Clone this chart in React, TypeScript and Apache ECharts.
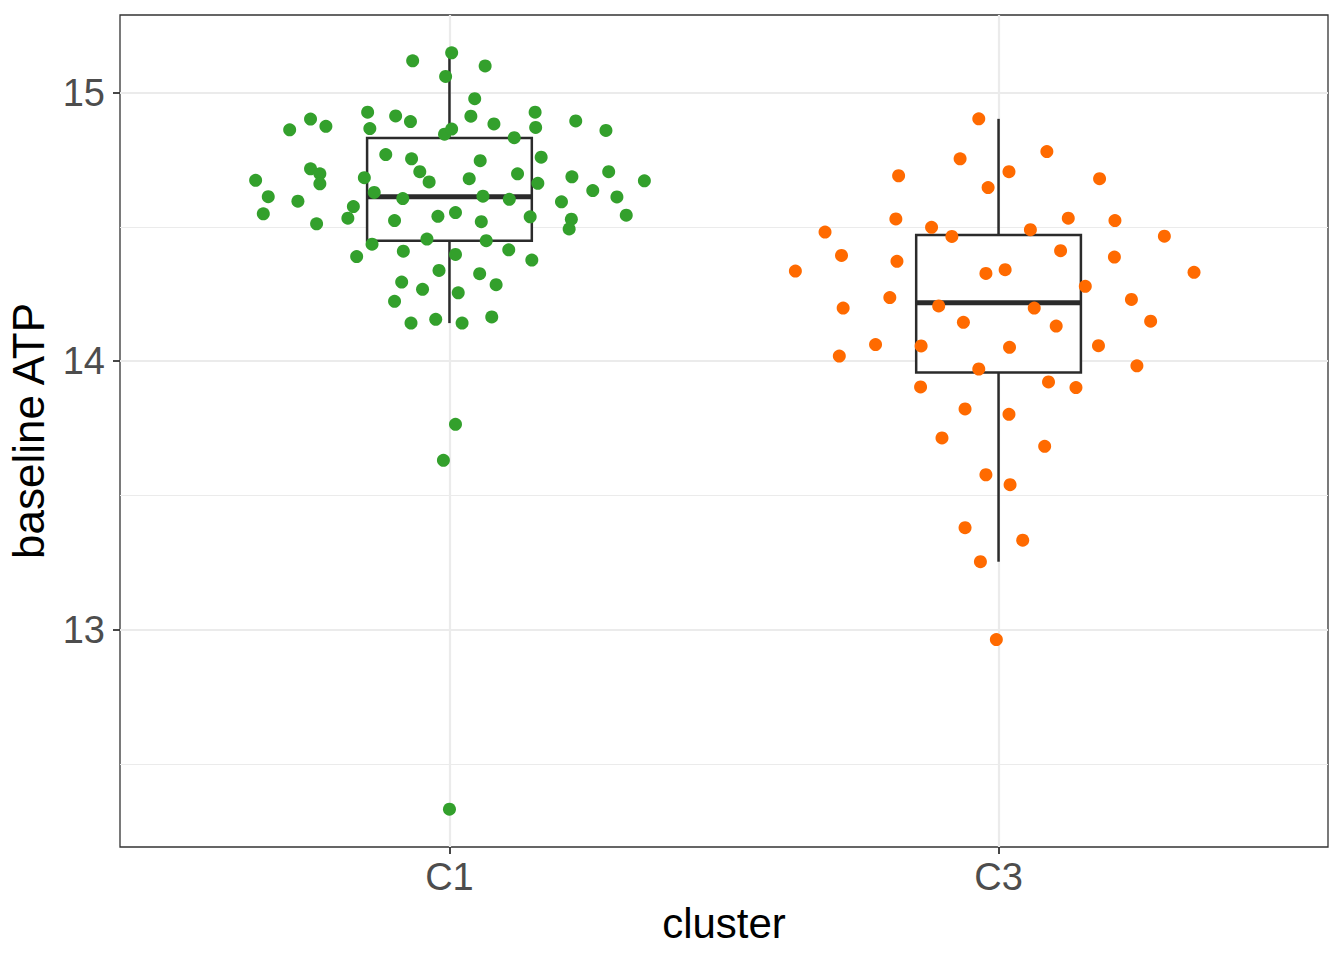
import React, { useEffect, useRef } from "react";
import * as echarts from "echarts";

// ---- data ----
const categories = ["C1", "C3"];

// C1: horizontal jitter offsets (category units) and baseline ATP values
const c1Jitter = [
  0.004, -0.067, 0.065, -0.007, 0.046, -0.291, -0.253, -0.225, -0.149, -0.145,
  -0.098, -0.071, -0.009, 0.004, 0.081, 0.156, 0.157, 0.118, 0.23, 0.285,
  -0.116, -0.069, -0.054, -0.037, 0.056, 0.167, -0.353, -0.33, -0.339, -0.276,
  -0.253, -0.236, -0.236, -0.242, -0.185, -0.175, -0.155, -0.137, -0.085, 0.036,
  0.061, 0.124, 0.109, 0.161, 0.223, 0.29, 0.261, 0.305, 0.355, 0.204,
  0.147, 0.222, 0.322, 0.218, 0.058, 0.011, -0.021, -0.1, -0.169, -0.141,
  -0.041, -0.084, 0.067, 0.011, 0.108, 0.15, -0.019, 0.055, -0.087, -0.049,
  0.016, 0.085, -0.1, -0.07, -0.025, 0.023, 0.077, 0.011, -0.011, 0.0,
  0.039,
];
const c1Values = [
  15.149, 15.119, 15.1, 15.061, 14.978, 14.862, 14.902, 14.875, 14.928, 14.867,
  14.914, 14.893, 14.846, 14.865, 14.884, 14.928, 14.871, 14.833, 14.895, 14.86,
  14.77, 14.754, 14.706, 14.668, 14.747, 14.76, 14.674, 14.613, 14.549, 14.596,
  14.717, 14.698, 14.661, 14.512, 14.533, 14.576, 14.684, 14.629, 14.606, 14.68,
  14.615, 14.698, 14.603, 14.663, 14.687, 14.706, 14.636, 14.612, 14.672, 14.594,
  14.538, 14.529, 14.544, 14.493, 14.52, 14.554, 14.54, 14.524, 14.39, 14.436,
  14.455, 14.41, 14.449, 14.398, 14.415, 14.377, 14.338, 14.326, 14.295, 14.268,
  14.255, 14.285, 14.223, 14.142, 14.156, 14.142, 14.165, 13.765, 13.631, 12.331,
  14.913,
];

// C3
const c3Jitter = [
  -0.036, -0.07, -0.182, -0.019, -0.187, -0.122, -0.085, -0.316, -0.286, -0.37,
  -0.185, -0.023, -0.198, -0.283, -0.109, -0.064, -0.224, -0.29, -0.141, -0.036,
  -0.142, 0.088, 0.019, 0.184, 0.127, 0.212, 0.058, 0.302, 0.113, 0.211,
  0.012, 0.356, 0.158, 0.242, 0.065, 0.105, 0.277, 0.02, 0.182, 0.252,
  0.091, 0.141, -0.061, -0.103, -0.023, -0.061, -0.033, -0.004, 0.019, 0.084,
  0.021, 0.044,
];
const c3Values = [
  14.903, 14.754, 14.691, 14.647, 14.53, 14.499, 14.465, 14.481, 14.394, 14.336,
  14.372, 14.327, 14.237, 14.198, 14.206, 14.145, 14.062, 14.019, 14.057, 13.971,
  13.904, 14.781, 14.706, 14.68, 14.533, 14.524, 14.49, 14.466, 14.412, 14.388,
  14.341, 14.331, 14.279, 14.23, 14.198, 14.131, 14.149, 14.052, 14.058, 13.983,
  13.923, 13.902, 13.822, 13.714, 13.577, 13.38, 13.253, 12.963, 13.802, 13.683,
  13.54, 13.333,
];

// boxplot statistics per category
const boxLow = [14.142, 13.253];
const boxQ1 = [14.449, 13.958];
const boxMedian = [14.613, 14.218];
const boxQ3 = [14.832, 14.47];
const boxHigh = [15.149, 14.903];

// axis ticks
const yMajorTicks = [13, 14, 15];
const yMinorTicks = [12.5, 13.5, 14.5];

// ---- styling ----
const GREEN = "#33A02C";
const ORANGE = "#FF6A00";
const BOX_HALF = 0.15;
const LINE = "#2B2B2B";
const GRID = "#EBEBEB";

export default function App() {
  const ref = useRef<HTMLDivElement>(null);

  useEffect(() => {
    if (!ref.current) return;
    const chart = echarts.init(ref.current, undefined, { renderer: "svg" });

    const allValues = [...c1Values, ...c3Values];
    const dMin = Math.min(...allValues);
    const dMax = Math.max(...allValues);
    const pad = (dMax - dMin) * 0.05;

    const catPositions = categories.map((_, i) => i + 1);
    const boxData = categories.map((_, i) => [
      i + 1,
      boxLow[i],
      boxQ1[i],
      boxMedian[i],
      boxQ3[i],
      boxHigh[i],
    ]);

    const c1Data = c1Values.map((v, i) => [1 + c1Jitter[i], v]);
    const c3Data = c3Values.map((v, i) => [2 + c3Jitter[i], v]);

    const font = "'Liberation Sans', Arial, Helvetica, sans-serif";

    const option: any = {
      animation: false,
      backgroundColor: "#FFFFFF",
      grid: {
        left: 120,
        right: 16,
        top: 15,
        bottom: 113,
        containLabel: false,
        outerBoundsMode: "none",
        show: true,
        borderColor: "#333333",
        borderWidth: 1.3,
        backgroundColor: "#FFFFFF",
        z: 0,
      },
      xAxis: {
        type: "value",
        min: 0.4,
        max: 2.6,
        name: "cluster",
        nameLocation: "middle",
        nameGap: 55,
        nameTextStyle: { fontFamily: font, fontSize: 42, color: "#000000" },
        axisLine: { show: false },
        splitLine: { show: false },
        axisTick: {
          show: true,
          customValues: catPositions,
          length: 7,
          lineStyle: { color: "#333333", width: 1.8 },
        },
        axisLabel: {
          customValues: catPositions,
          formatter: (v: number) => categories[Math.round(v) - 1] ?? "",
          fontFamily: font,
          fontSize: 38,
          color: "#4D4D4D",
          margin: 11,
        },
      },
      yAxis: {
        type: "value",
        min: dMin - pad,
        max: dMax + pad,
        name: "baseline ATP",
        nameLocation: "middle",
        nameRotate: 90,
        nameGap: 70,
        nameTextStyle: { fontFamily: font, fontSize: 44, color: "#000000" },
        axisLine: { show: false },
        splitLine: { show: false },
        axisTick: {
          show: true,
          customValues: yMajorTicks,
          length: 7,
          lineStyle: { color: "#333333", width: 1.8 },
        },
        axisLabel: {
          customValues: yMajorTicks,
          formatter: (v: number) => String(v),
          fontFamily: font,
          fontSize: 38,
          color: "#4D4D4D",
          margin: 15,
        },
      },
      series: [
        {
          type: "scatter",
          name: "grid",
          data: [],
          silent: true,
          z: 1,
          markLine: {
            silent: true,
            z: 1,
            symbol: "none",
            label: { show: false },
            animation: false,
            data: [
              ...yMinorTicks.map((v) => ({ yAxis: v, lineStyle: { color: GRID, width: 1.1, type: "solid" } })),
              ...yMajorTicks.map((v) => ({ yAxis: v, lineStyle: { color: GRID, width: 2.2, type: "solid" } })),
              ...catPositions.map((v) => ({ xAxis: v, lineStyle: { color: GRID, width: 2.2, type: "solid" } })),
            ],
          },
        },
        {
          type: "custom",
          name: "box",
          z: 2,
          silent: true,
          data: boxData,
          encode: { x: 0, y: [1, 2, 3, 4, 5] },
          renderItem: (params: any, api: any) => {
            const x = api.value(0);
            const low = api.value(1);
            const q1 = api.value(2);
            const med = api.value(3);
            const q3 = api.value(4);
            const high = api.value(5);
            const tl = api.coord([x - BOX_HALF, q3]);
            const br = api.coord([x + BOX_HALF, q1]);
            const top = api.coord([x, high]);
            const bot = api.coord([x, low]);
            const mL = api.coord([x - BOX_HALF, med]);
            const mR = api.coord([x + BOX_HALF, med]);
            const s = { stroke: LINE, lineWidth: 2.5, fill: "none" };
            return {
              type: "group",
              children: [
                { type: "line", shape: { x1: top[0], y1: top[1], x2: top[0], y2: tl[1] }, style: s },
                { type: "line", shape: { x1: bot[0], y1: bot[1], x2: bot[0], y2: br[1] }, style: s },
                {
                  type: "rect",
                  shape: { x: tl[0], y: tl[1], width: br[0] - tl[0], height: br[1] - tl[1] },
                  style: { fill: "#FFFFFF", stroke: LINE, lineWidth: 2.5 },
                },
                {
                  type: "line",
                  shape: { x1: mL[0], y1: mL[1], x2: mR[0], y2: mR[1] },
                  style: { stroke: LINE, lineWidth: 5 },
                },
              ],
            };
          },
        },
        {
          type: "scatter",
          name: "C1",
          z: 3,
          data: c1Data,
          symbol: "circle",
          symbolSize: 13,
          itemStyle: { color: GREEN, opacity: 1 },
        },
        {
          type: "scatter",
          name: "C3",
          z: 3,
          data: c3Data,
          symbol: "circle",
          symbolSize: 13,
          itemStyle: { color: ORANGE, opacity: 1 },
        },
      ],
    };

    chart.setOption(option);
    return () => chart.dispose();
  }, []);

  return (
    <div
      ref={ref}
      style={{ position: "fixed", left: 0, top: 0, width: 1344, height: 960, background: "#FFFFFF" }}
    />
  );
}
